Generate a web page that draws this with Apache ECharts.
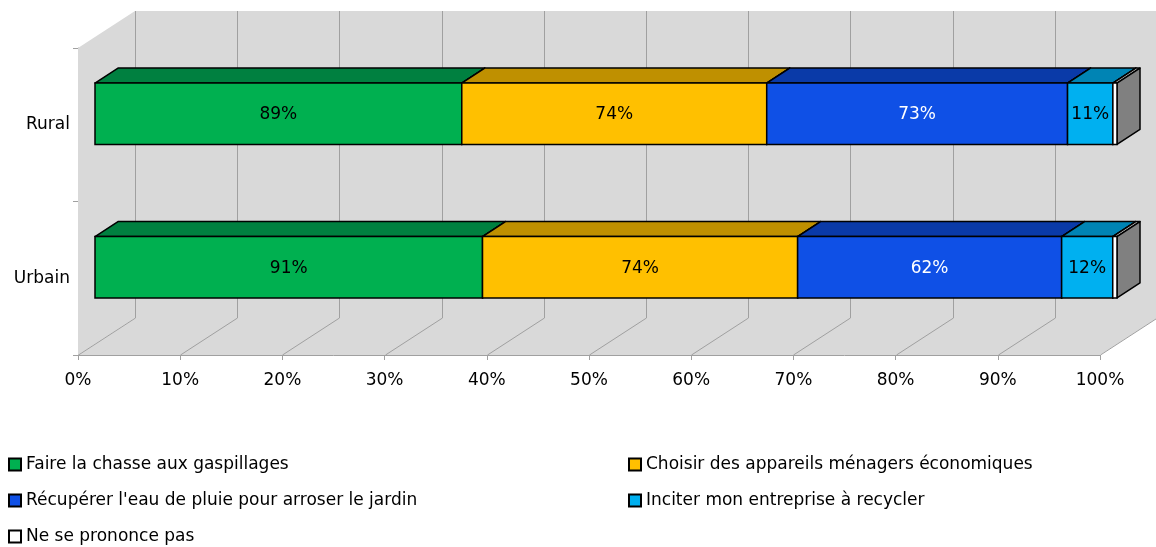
<!DOCTYPE html>
<html>
<head>
<meta charset="utf-8">
<script src="https://cdn.jsdelivr.net/npm/echarts@6/dist/echarts.min.js"></script>
<style>
	html, body { margin:0; padding:0; background:#fff; }
	#chart { width:1156px; height:547px; }
</style>
</head>
<body>
<div id="chart"></div>
<script type="text/javascript">

	// categories, bottom to top (Rural on top)
	var categories = ['Urbain', 'Rural'];
	var xTicks = [0, 10, 20, 30, 40, 50, 60, 70, 80, 90, 100];

	// values shown on the bars, same order as categories
	var faireChasse = [91, 89];
	var choisirAppareils = [74, 74];
	var recupererEau = [62, 73];
	var inciterEntreprise = [12, 11];
	var nePrononcePas = [1, 1];

	var seriesNames = [
		'Faire la chasse aux gaspillages',
		'Choisir des appareils ménagers économiques',
		"Récupérer l'eau de pluie pour arroser le jardin",
		'Inciter mon entreprise à recycler',
		'Ne se prononce pas'
	];
	var seriesValues = [faireChasse, choisirAppareils, recupererEau, inciterEntreprise, nePrononcePas];
	var frontColors = ['#00b050', '#ffc000', '#0f50e6', '#00b0f0', '#ffffff'];
	var topColors = ['#008040', '#bf9000', '#0a3aa8', '#0084b4', '#c8c8c8'];
	var sideColors = ['#006030', '#9a7400', '#08308a', '#006a90', '#808080'];
	var labelColors = ['#000', '#000', '#fff', '#000', '#000'];

	// legend placement (left col / right col, three rows)
	var legendPos = [[8, 456], [628, 456], [8, 492], [628, 492], [8, 528]];

	// 3d look (pixels)
	var DX = 57, DY = -37;      // full depth of the floor
	var FX = 17, FY = -11;      // bar front face offset
	var TX = 23, TY = -15;      // bar depth

	// 100% stacked: build [start%, catIndex, end%, value] per series
	var totals = categories.map(function(c, i){
		var t = 0;
		seriesValues.forEach(function(v){ t += v[i]; });
		return t;
	});
	var stacked = seriesValues.map(function(){ return []; });
	categories.forEach(function(c, i){
		var acc = 0;
		seriesValues.forEach(function(v, s){
			var start = acc / totals[i] * 100;
			acc += v[i];
			stacked[s].push([start, i, acc / totals[i] * 100, v[i]]);
		});
	});

	function renderWalls(params, api){
		var cs = params.coordSys;
		var x0 = cs.x, y0 = cs.y, x1 = cs.x + cs.width, y1 = cs.y + cs.height;
		var wall = {fill:'#d9d9d9'};
		var grid = {stroke:'#a0a0a0', lineWidth:1};
		var children = [
			{type:'polygon', shape:{points:[[x0+DX, y0+DY],[x1+DX+10, y0+DY],[x1+DX+10, y1+DY],[x0+DX, y1+DY]]}, style:wall},
			{type:'polygon', shape:{points:[[x0, y0],[x0+DX, y0+DY],[x0+DX, y1+DY],[x0, y1]]}, style:wall},
			{type:'polygon', shape:{points:[[x0, y1],[x0+DX, y1+DY],[x1+DX, y1+DY],[x1, y1]]}, style:wall}
		];
		xTicks.forEach(function(t){
			var px = Math.round(api.coord([t, 0])[0]) + 0.5;
			children.push({type:'line', shape:{x1:px+DX, y1:y0+DY, x2:px+DX, y2:y1+DY}, style:grid});
			children.push({type:'line', shape:{x1:px, y1:y1, x2:px+DX, y2:y1+DY}, style:grid});
		});
		return {type:'group', children:children};
	}

	function makeRender(s){
		return function(params, api){
			var p0 = api.coord([api.value(0), api.value(1)]);
			var p1 = api.coord([api.value(2), api.value(1)]);
			var h = api.size([0, 1])[1] * 0.4;
			var xa = p0[0] + FX, xb = p1[0] + FX;
			var top = p0[1] + FY - h / 2, bot = top + h;
			return {
				type:'group',
				children:[
					{type:'polygon', shape:{points:[[xa, top],[xa+TX, top+TY],[xb+TX, top+TY],[xb, top]]},
						style:{fill:topColors[s], stroke:'#000', lineWidth:1.5, lineJoin:'round'}},
					{type:'polygon', shape:{points:[[xb, top],[xb+TX, top+TY],[xb+TX, bot+TY],[xb, bot]]},
						style:{fill:sideColors[s], stroke:'#000', lineWidth:1.5, lineJoin:'round'}},
					{type:'rect', shape:{x:xa, y:top, width:xb-xa, height:h},
						style:{fill:frontColors[s], stroke:'#000', lineWidth:1.5}},
					{type:'text', x:(xa+xb)/2, y:(top+bot)/2 + 1,
						style:{text: s < 4 ? api.value(3) + '%' : '', fill:labelColors[s], align:'center', verticalAlign:'middle',
							font:'17px "DejaVu Sans"'}}
				]
			};
		};
	}

	var series = [{
		type:'custom',
		name:'walls',
		silent:true,
		z:1,
		clip:false,
		renderItem:renderWalls,
		data:[[0, 0]]
	}];
	seriesNames.forEach(function(name, s){
		series.push({
			type:'custom',
			name:name,
			z:2,
			clip:false,
			itemStyle:{color:frontColors[s], borderColor:'#000', borderWidth:1},
			renderItem:makeRender(s),
			encode:{x:[0, 2], y:1},
			data:stacked[s]
		});
	});

	var legends = seriesNames.map(function(name, s){
		return {
			left:legendPos[s][0], top:legendPos[s][1], padding:0,
			itemWidth:12, itemHeight:12, itemGap:7,
			icon:'rect', textStyle:{fontSize:17, color:'#000'},
			data:[name]
		};
	});

	var chart = echarts.init(document.getElementById('chart'));
	chart.setOption({
		animation:false,
		textStyle:{fontFamily:'DejaVu Sans'},
		grid:{left:78, right:56, top:48, bottom:192, containLabel:false},
		xAxis:{
			type:'value', min:0, max:100, interval:10,
			axisLine:{show:true, lineStyle:{color:'#a0a0a0'}},
			axisTick:{show:true, length:5, lineStyle:{color:'#a0a0a0'}},
			axisLabel:{formatter:'{value}%', color:'#000', fontSize:17, margin:17},
			splitLine:{show:false}
		},
		yAxis:{
			type:'category', data:categories,
			axisLine:{show:true, lineStyle:{color:'#a0a0a0'}},
			axisTick:{show:true, length:5, lineStyle:{color:'#a0a0a0'}},
			axisLabel:{color:'#000', fontSize:17, margin:8, padding:[6, 0, 0, 0]},
			splitLine:{show:false}
		},
		legend:legends,
		series:series
	});

</script>
</body>
</html>
